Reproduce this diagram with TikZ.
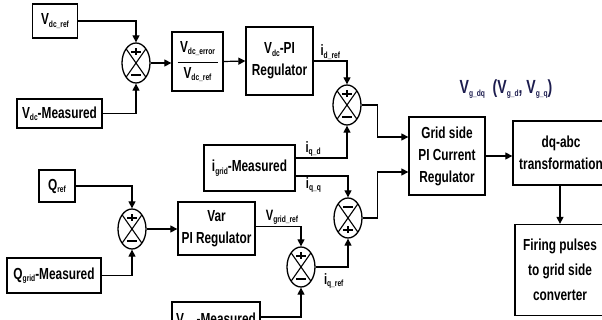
\documentclass[tikz,border=0pt]{standalone}
\usepackage{fontspec}
\setmainfont{Liberation Sans}[FakeStretch=0.74]
\usetikzlibrary{shapes.geometric, arrows.meta, positioning, calc}
\definecolor{navy}{RGB}{28,28,78}
\newcommand{\sbs}[1]{\raisebox{-2.5pt}{\fontsize{9}{9}\selectfont #1}}
\tikzstyle{block} = [rectangle, draw=black, line width=1.3pt, align=center,
                     font=\fontsize{16}{22}\selectfont\bfseries, inner sep=2pt]
\tikzstyle{sumbase} = [ellipse, draw=black, line width=1.3pt, minimum width=28pt,
                       minimum height=40pt, inner sep=0pt]
\tikzstyle{sumpm} = [sumbase, path picture={
    \draw[line width=1.1pt] (path picture bounding box.north west) -- (path picture bounding box.south east)
                            (path picture bounding box.north east) -- (path picture bounding box.south west);
    \draw[line width=1.5pt] ([xshift=-5pt,yshift=11pt]path picture bounding box.center) -- ++(10pt,0pt)
                            ([yshift=8pt]path picture bounding box.center) -- ++(0pt,7pt)
                            ([xshift=-5pt,yshift=-12pt]path picture bounding box.center) -- ++(10pt,0pt);}]
\tikzstyle{summp} = [sumbase, path picture={
    \draw[line width=1.1pt] (path picture bounding box.north west) -- (path picture bounding box.south east)
                            (path picture bounding box.north east) -- (path picture bounding box.south west);
    \draw[line width=1.5pt] ([xshift=-5pt,yshift=11pt]path picture bounding box.center) -- ++(10pt,0pt)
                            ([xshift=-5pt,yshift=-12pt]path picture bounding box.center) -- ++(10pt,0pt)
                            ([yshift=-15pt]path picture bounding box.center) -- ++(0pt,7pt);}]
\tikzstyle{arrow} = [line width=1.2pt, -{Triangle[length=7pt,width=7pt]}]
\tikzstyle{sig} = [font=\fontsize{15}{15}\selectfont\bfseries, inner sep=1pt]

\begin{document}
\begin{tikzpicture}[x=1pt, y=-1pt]
  \clip (0,0) rectangle (602,320);

  % DC voltage loop
  \node (vdcref)  [block, minimum width=45pt, minimum height=34pt] at (55,21) {V\sbs{dc\_ref}};
  \node (vdcmeas) [block, minimum width=85pt, minimum height=29pt] at (59.5,113.5) {V\sbs{dc}-Measured};
  \node (sum1)    [sumpm] at (136,63) {};
  \node (vdcerr)  [block, minimum width=51pt, minimum height=59pt, font=\fontsize{16}{17}\selectfont\bfseries]
                  at (197.5,61.5) {V\sbs{dc\_error}\\[-6pt]\rule{40pt}{0.9pt}\\[-2pt]V\sbs{dc\_ref}};
  \node (vdcpi)   [block, minimum width=67pt, minimum height=68pt] at (279.5,61) {V\sbs{dc}-PI\\Regulator};

  % Reactive power loop
  \node (qref)    [block, minimum width=36pt, minimum height=32pt] at (57,186) {Q\sbs{ref}};
  \node (qmeas)   [block, minimum width=94pt, minimum height=35pt] at (54,275.5) {Q\sbs{grid}-Measured};
  \node (sum5)    [sumpm] at (132,229) {};
  \node (varpi)   [block, minimum width=77pt, minimum height=53pt] at (216.5,228.5) {Var\\PI Regulator};
  \node (vgmeas)  [block, minimum width=88pt, minimum height=38pt] at (216,321) {V\sbs{grid}-Measured};
  \node (sum4)    [sumpm] at (301,267) {};

  % Current loops
  \node (igrid)   [block, minimum width=91pt, minimum height=46pt] at (249.5,168) {i\sbs{grid}-Measured};
  \node (sum2)    [sumpm] at (347,105) {};
  \node (sum3)    [summp] at (348,218) {};
  \node (grid)    [block, minimum width=76pt, minimum height=78pt] at (447,156) {Grid side\\PI Current\\Regulator};
  \node (dqabc)   [block, minimum width=96pt, minimum height=64pt] at (561,153) {dq-abc\\transformation};
  \node (firing)  [block, minimum width=90pt, minimum height=91pt, font=\fontsize{16}{25}\selectfont\bfseries]
                  at (560,270) {Firing pulses\\to grid side\\converter};
  \node (vgdq)    [inner sep=1pt, text=navy, font=\fontsize{19}{19}\selectfont\bfseries] at (506,89)
                  {V\sbs{\bfseries g\_dq}\ \ (V\sbs{\bfseries g\_d}, V\sbs{\bfseries g\_q})};

  % Connectors
  \draw[arrow] (vdcref.east) -| (sum1.north);
  \draw[arrow] (vdcmeas.east) -| (sum1.south);
  \draw[arrow] (sum1.east) -- (sum1.east -| vdcerr.west);
  \draw[arrow] (vdcerr.east) -- (vdcpi.west);
  \draw[arrow] (vdcpi.east) -| node[sig, pos=0.25, above]{i\sbs{d\_ref}} (sum2.north);
  \draw[arrow] ([yshift=10pt]igrid.east) -| node[sig, pos=0.17, above]{i\sbs{q\_d}} (sum2.south);
  \draw[arrow] ([yshift=-8pt]igrid.east) -| node[sig, pos=0.17, below]{i\sbs{q\_q}} (sum3.north);
  \draw[arrow] (sum2.east) -- ++(16,0) |- ([yshift=19pt]grid.west);
  \draw[arrow] (sum3.east) -- ++(15,0) |- ([yshift=-16pt]grid.west);

  \draw[arrow] (qref.east) -| (sum5.north);
  \draw[arrow] (qmeas.east) -| (sum5.south);
  \draw[arrow] (sum5.east) -- (sum5.east -| varpi.west);
  \draw[arrow] ([yshift=2pt]varpi.east) -| node[sig, pos=0.29, above]{V\sbs{grid\_ref}} (sum4.north);
  \draw[arrow] ([yshift=4pt]vgmeas.east) -| (sum4.south);
  \draw[arrow] (sum4.east) -| node[sig, pos=0.28, below, yshift=-5pt]{i\sbs{q\_ref}} (sum3.south);

  \draw[arrow] (grid.east) -- (grid.east -| dqabc.west);
  \draw[arrow] (dqabc.south -| firing.north) -- (firing.north);

\end{tikzpicture}
\end{document}
